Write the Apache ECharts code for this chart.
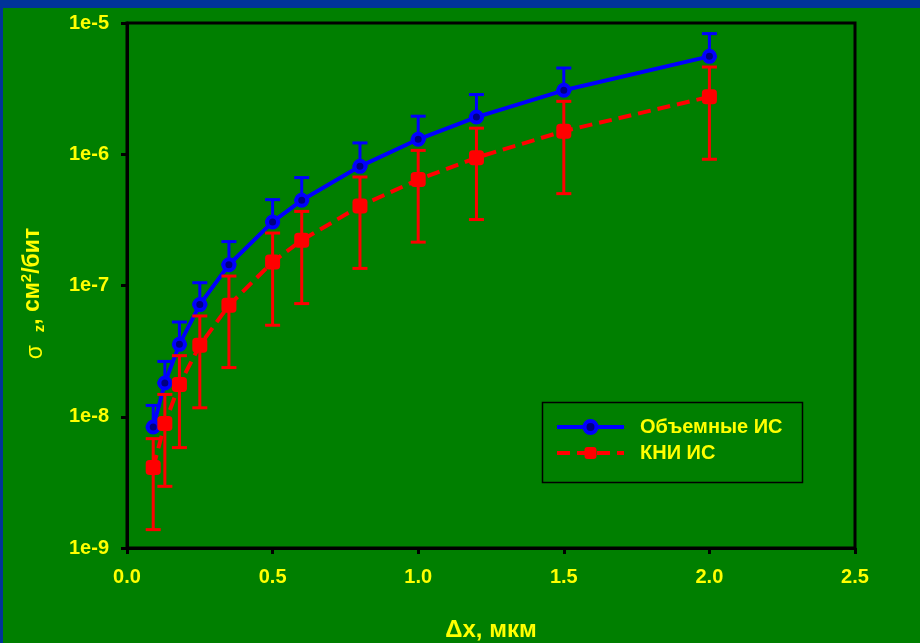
<!DOCTYPE html>
<html>
<head>
<meta charset="utf-8">
<script src="https://cdn.jsdelivr.net/npm/echarts@6/dist/echarts.min.js"></script>
<style>
  html, body { margin: 0; padding: 0; background: #007f00; }
  #chart { width: 920px; height: 643px; }
</style>
</head>
<body>
<div id="chart"></div>
<script>
// Step size Δx, µm
const dx = [0.09, 0.13, 0.18, 0.25, 0.35, 0.5, 0.6, 0.8, 1.0, 1.2, 1.5, 2.0];

// Bulk ICs: σz, cm²/bit, and upper end of the error bar
const bulk   = [8.35e-9, 1.81e-8, 3.56e-8, 7.15e-8, 1.44e-7, 3.05e-7, 4.46e-7, 8.09e-7, 1.30e-6, 1.92e-6, 3.07e-6, 5.57e-6];
const bulkHi = [1.22e-8, 2.64e-8, 5.27e-8, 1.05e-7, 2.16e-7, 4.51e-7, 6.64e-7, 1.22e-6, 1.95e-6, 2.85e-6, 4.54e-6, 8.30e-6];

// SOI ICs: σz, cm²/bit, with lower and upper ends of the error bar
const soi   = [4.10e-9, 8.87e-9, 1.76e-8, 3.50e-8, 7.06e-8, 1.51e-7, 2.21e-7, 4.03e-7, 6.41e-7, 9.42e-7, 1.50e-6, 2.74e-6];
const soiLo = [1.38e-9, 2.95e-9, 5.82e-9, 1.17e-8, 2.37e-8, 4.98e-8, 7.28e-8, 1.35e-7, 2.14e-7, 3.18e-7, 5.01e-7, 9.16e-7];
const soiHi = [6.81e-9, 1.48e-8, 2.92e-8, 5.86e-8, 1.18e-7, 2.51e-7, 3.67e-7, 6.71e-7, 1.07e-6, 1.58e-6, 2.53e-6, 4.62e-6];

const seriesNames = ['Объемные ИС', 'КНИ ИС'];
const xTicks = { min: 0, max: 2.5, step: 0.5 };
const yTicks = { min: 1e-9, max: 1e-5 };

const FONT = 'Arial, "Liberation Sans", sans-serif';
const YELLOW = '#ffff00';
const BLUE = '#0000ff';
const RED = '#ff0000';

function errorBars(color) {
  return function (params, api) {
    const x = api.value(0);
    const lo = api.coord([x, api.value(1)]);
    const hi = api.coord([x, api.value(2)]);
    const cap = 7.5;
    const st = { stroke: color, lineWidth: 3 };
    return {
      type: 'group',
      children: [
        { type: 'line', shape: { x1: lo[0], y1: lo[1], x2: hi[0], y2: hi[1] }, style: st },
        { type: 'line', shape: { x1: hi[0] - cap, y1: hi[1], x2: hi[0] + cap, y2: hi[1] }, style: st },
        { type: 'line', shape: { x1: lo[0] - cap, y1: lo[1], x2: lo[0] + cap, y2: lo[1] }, style: st }
      ]
    };
  };
}

const chart = echarts.init(document.getElementById('chart'), null, { renderer: 'canvas' });

chart.setOption({
  backgroundColor: '#007f00',
  animation: false,
  graphic: [
    { type: 'rect', left: 0, top: 0, shape: { width: 920, height: 8 }, style: { fill: '#003399' }, z: -10 },
    { type: 'rect', left: 0, top: 0, shape: { width: 3, height: 643 }, style: { fill: '#003399' }, z: -10 },
    { type: 'rect', left: 540, top: 400, shape: { width: 260, height: 80 },
      style: { fill: 'none', stroke: '#000', lineWidth: 1.5 }, z: 5 }
  ],
  grid: {
    left: 127, right: 65, top: 23, bottom: 95,
    outerBoundsMode: 'none',
    containLabel: false,
    show: true, borderColor: '#000', borderWidth: 3, backgroundColor: 'transparent'
  },
  legend: {
    orient: 'vertical',
    left: 541, top: 401,
    padding: [16, 0, 0, 14],
    itemWidth: 67, itemHeight: 15, itemGap: 6,
    data: seriesNames,
    lineStyle: { width: 4 },
    itemStyle: { borderWidth: 'inherit' },
    textStyle: { color: YELLOW, fontFamily: FONT, fontWeight: 'bold', fontSize: 20, padding: [0, 0, 0, 11] }
  },
  xAxis: {
    type: 'value',
    min: xTicks.min, max: xTicks.max, interval: xTicks.step,
    name: 'Δx, мкм',
    nameLocation: 'middle',
    nameGap: 70,
    nameTextStyle: { color: YELLOW, fontFamily: FONT, fontWeight: 'bold', fontSize: 24 },
    axisLine: { lineStyle: { color: '#000', width: 3 } },
    axisTick: { show: true, length: 6, lineStyle: { color: '#000', width: 3 } },
    splitLine: { show: false },
    axisLabel: {
      color: YELLOW, fontFamily: FONT, fontWeight: 'bold', fontSize: 20, margin: 19,
      formatter: v => v.toFixed(1)
    }
  },
  yAxis: {
    type: 'log', logBase: 10,
    min: yTicks.min, max: yTicks.max, interval: 1,
    name: '{s|σ}  {sub|z}{b|, см}{sup|2}{b|/бит}',
    nameLocation: 'middle',
    nameRotate: 90,
    nameGap: 80,
    nameTextStyle: {
      color: YELLOW, fontFamily: FONT, fontWeight: 'bold', fontSize: 23,
      padding: [0, 16, 0, 0],
      rich: {
        s: { color: YELLOW, fontFamily: FONT, fontSize: 23, fontWeight: 'normal', verticalAlign: 'bottom', lineHeight: 28 },
        sub: { color: YELLOW, fontFamily: FONT, fontSize: 15, fontWeight: 'bold', verticalAlign: 'bottom', lineHeight: 28 },
        b: { color: YELLOW, fontFamily: FONT, fontSize: 23, fontWeight: 'bold', lineHeight: 28 },
        sup: { color: YELLOW, fontFamily: FONT, fontSize: 15, fontWeight: 'bold', verticalAlign: 'top', lineHeight: 28 }
      }
    },
    axisLine: { lineStyle: { color: '#000', width: 3 } },
    axisTick: { show: true, length: 6, lineStyle: { color: '#000', width: 3 } },
    minorTick: { show: false },
    splitLine: { show: false },
    axisLabel: {
      color: YELLOW, fontFamily: FONT, fontWeight: 'bold', fontSize: 20, margin: 18,
      formatter: v => '1e' + Math.round(Math.log10(v))
    }
  },
  series: [
    {
      type: 'custom',
      name: seriesNames[0] + ' err',
      renderItem: errorBars(BLUE),
      encode: { x: 0, y: [1, 2] },
      data: dx.map((x, i) => [x, bulk[i], bulkHi[i]]),
      z: 2
    },
    {
      type: 'line',
      name: seriesNames[0],
      data: dx.map((x, i) => [x, bulk[i]]),
      symbol: 'circle',
      symbolSize: 11,
      lineStyle: { color: BLUE, width: 4 },
      itemStyle: { color: '#000080', borderColor: BLUE, borderWidth: 4 },
      z: 3
    },
    {
      type: 'custom',
      name: seriesNames[1] + ' err',
      renderItem: errorBars(RED),
      encode: { x: 0, y: [1, 2] },
      data: dx.map((x, i) => [x, soiLo[i], soiHi[i]]),
      z: 4
    },
    {
      type: 'line',
      name: seriesNames[1],
      data: dx.map((x, i) => [x, soi[i]]),
      symbol: 'roundRect',
      symbolSize: 15,
      lineStyle: { color: RED, width: 4, type: [13, 7] },
      itemStyle: { color: RED },
      z: 5
    }
  ]
});
</script>
</body>
</html>
